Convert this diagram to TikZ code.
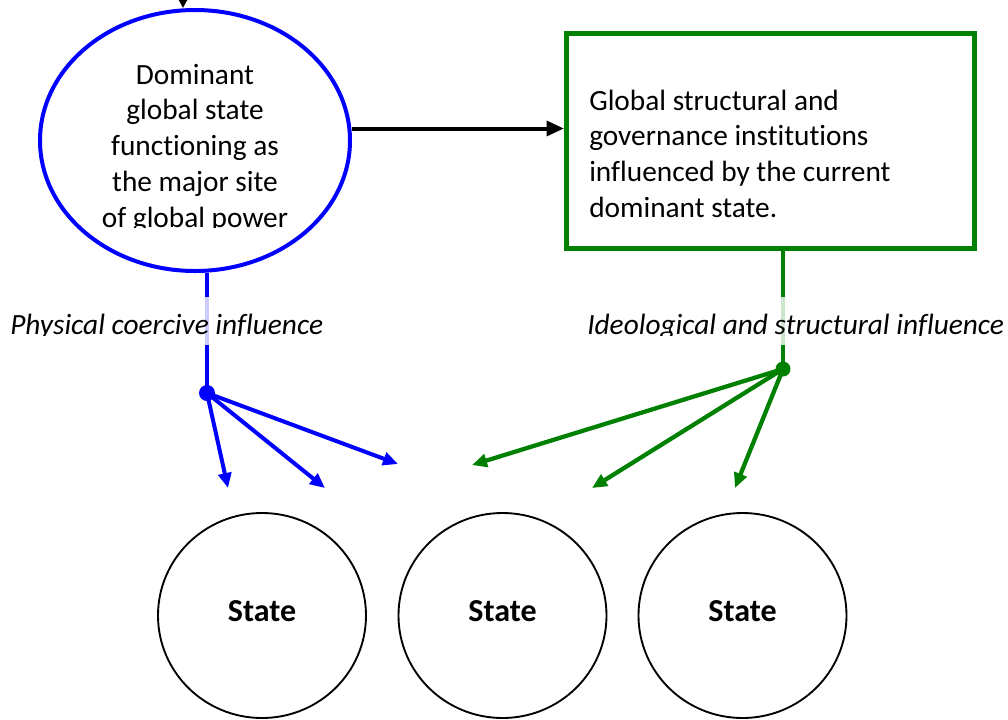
\documentclass[tikz,border=0pt]{standalone}
\usepackage{fontspec}
\setmainfont{Carlito}[Ligatures=NoCommon]
\usetikzlibrary{arrows.meta,shapes.geometric}
\newlength\px
\setlength\px{0.75pt}
\definecolor{pblue}{RGB}{0,0,255}
\definecolor{pgreen}{RGB}{0,128,0}
\begin{document}
\begin{tikzpicture}[x=0.75pt,y=-0.75pt,
  bodytext/.style={font=\fontsize{22pt}{26.8pt}\selectfont, inner sep=0pt},
  labeltext/.style={font=\fontsize{22pt}{26.8pt}\selectfont\itshape, inner sep=0pt},
  band/.style={fill=white, fill opacity=0.8, draw=none, inner sep=0pt, minimum height=48\px},
  domellipse/.style={ellipse, draw=pblue, line width=3pt, minimum width=310\px, minimum height=261\px, inner sep=0pt},
  govbox/.style={rectangle, draw=pgreen, line width=3.75pt, minimum width=408\px, minimum height=215\px, inner sep=0pt},
  statecircle/.style={ellipse, draw=black, line width=1.4pt, minimum width=208\px, minimum height=205\px, inner sep=0pt,
    font=\fontsize{24pt}{28pt}\selectfont\bfseries, text depth=7.5pt},
  bluelink/.style={draw=pblue, line width=3pt},
  greenlink/.style={draw=pgreen, line width=3.2pt},
  bluearrow/.style={bluelink, -{Triangle[length=11.25pt, width=9.75pt]}},
  greenarrow/.style={greenlink, -{Triangle[length=11.25pt, width=9.75pt]}},
  hub/.style={circle, inner sep=0pt, minimum size=15\px},
]
\useasboundingbox (0,0) rectangle (1008,719);

% main shapes
\node[domellipse] (dom) at (195,140.5) {};
\node[govbox] (gbox) at (770.5,141) {};
\node[statecircle] (s1) at (262,615.5) {State};
\node[statecircle] (s2) at (502.5,615.5) {State};
\node[statecircle] (s3) at (742.5,615.5) {State};

% text of the dominant state, cut off at the last baseline
\begin{scope}
  \clip (30,20) rectangle (360,227);
  \node[bodytext, align=center, anchor=base] (domtext) at (195,227)
    {Dominant\\global state\\functioning as\\the major site\\of global power};
\end{scope}

\node[bodytext, text width=385\px, align=flush left, anchor=base west] (gtext) at (589,110)
  {Global structural and\\governance institutions\\influenced by the current\\dominant state.};

% incoming arrow at the top and link between the two upper shapes
\coordinate (topsrc) at (183,-40);
\draw[line width=2pt, -{Triangle[length=7.5pt, width=7.5pt]}] (topsrc) -- (topsrc |- dom.north);
\draw[line width=3pt, -{Triangle[length=13pt, width=11pt]}]
  ([yshift=9pt]dom.east) -- ([yshift=9pt]dom.east -| gbox.west);

% hubs and fan-out arrows
\node[hub, fill=pblue, minimum size=16\px] (bhub) at (207,393) {};
\node[hub, fill=pgreen] (ghub) at (783,369) {};

\draw[bluelink] (dom.south -| bhub) -- (bhub.center);
\draw[greenlink] (gbox.south -| ghub) -- (ghub.center);

\coordinate (b1) at (228,488);
\coordinate (b2) at (325,488);
\coordinate (b3) at (398,464);
\coordinate (g1) at (472,465);
\coordinate (g2) at (592,488);
\coordinate (g3) at (735,488);

\draw[bluearrow] (bhub.center) -- (b1);
\draw[bluearrow] (bhub.center) -- (b2);
\draw[bluearrow] (bhub.center) -- (b3);
\draw[greenarrow] (ghub.center) -- (g1);
\draw[greenarrow] (ghub.center) -- (g2);
\draw[greenarrow] (ghub.center) -- (g3);

% influence labels on translucent white bands
\node[band, minimum width=318\px, anchor=north west] (pband) at (8,297) {};
\node[band, minimum width=423\px, anchor=north west] (iband) at (583,297) {};
\begin{scope}
  \clip (0,290) rectangle (1008,335);
  \node[labeltext, anchor=base west] (plabel) at (10,334) {Physical coercive influence};
  \node[labeltext, anchor=base west] (ilabel) at (587,334) {Ideological and structural influence};
\end{scope}
\end{tikzpicture}
\end{document}
